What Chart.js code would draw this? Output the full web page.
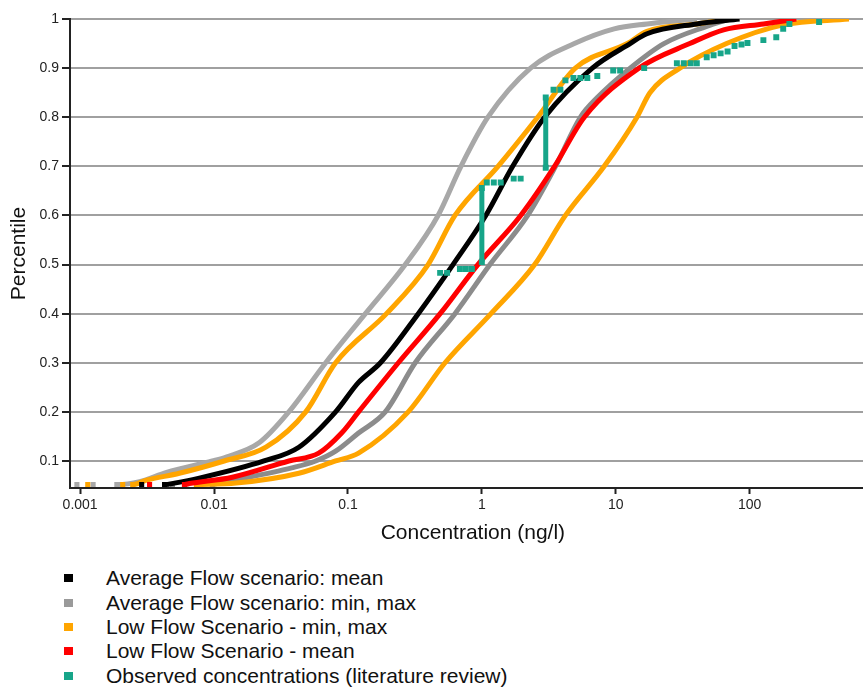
<!DOCTYPE html>
<html>
<head>
<meta charset="utf-8">
<title>Concentration percentiles</title>
<script src="https://cdn.jsdelivr.net/npm/chart.js@4.4.1/dist/chart.umd.min.js"></script>
<style>
  html, body { margin: 0; padding: 0; background: #fff; }
  body { width: 863px; height: 688px; position: relative; overflow: hidden; font-family: "Liberation Sans", Arial, sans-serif; }
  #chart { position: absolute; left: 0; top: 0; }
  #legend { position: absolute; left: 64px; top: 566px; margin: 0; padding: 0; list-style: none; }
  #legend li { height: 24.4px; font-size: 21px; color: #111; display: flex; align-items: center; white-space: nowrap; }
  #legend .box { width: 9px; height: 8px; margin-right: 33px; flex: none; }
</style>
</head>
<body>
<canvas id="chart" width="880" height="550"></canvas>
<ul id="legend"></ul>
<script>
"use strict";

// axis ticks
const xTickValues = [0.001, 0.01, 0.1, 1, 10, 100];
const xTickLabels = ["0.001", "0.01", "0.1", "1", "10", "100"];
const yTickValues = [0.1, 0.2, 0.3, 0.4, 0.5, 0.6, 0.7, 0.8, 0.9, 1];
const yTickLabels = ["0.1", "0.2", "0.3", "0.4", "0.5", "0.6", "0.7", "0.8", "0.9", "1"];

// Average flow scenario: mean (ng/l vs percentile)
const avgMeanConc = [0.00288, 0.00427, 0.00506, 0.00776, 0.0236, 0.043, 0.0809, 0.12, 0.175, 0.335, 0.609, 1.07, 1.7, 2.94, 6.68, 12.8, 17.1, 40.3, 84];
const avgMeanPct  = [0.052, 0.052, 0.055, 0.065, 0.10, 0.128, 0.20, 0.26, 0.30, 0.40, 0.50, 0.60, 0.70, 0.80, 0.90, 0.95, 0.97, 0.99, 1.0];

// Average flow scenario: min
const avgMinConc = [0.000946, 0.00125, 0.00188, 0.00278, 0.00442, 0.0097, 0.0123, 0.0217, 0.0362, 0.0682, 0.135, 0.268, 0.471, 0.698, 1.11, 2.31, 4.91, 9.73, 17.1, 40.3];
const avgMinPct  = [0.052, 0.052, 0.052, 0.058, 0.077, 0.10, 0.108, 0.137, 0.20, 0.30, 0.40, 0.50, 0.60, 0.70, 0.80, 0.90, 0.95, 0.98, 0.99, 1.0];

// Average flow scenario: max
const avgMaxConc = [0.00442, 0.00489, 0.0097, 0.0109, 0.0381, 0.0574, 0.0809, 0.12, 0.19, 0.318, 0.63, 1.15, 2.2, 3.55, 5.44, 7.28, 12.8, 22.9, 47.8, 70.8];
const avgMaxPct  = [0.052, 0.052, 0.052, 0.055, 0.086, 0.10, 0.12, 0.157, 0.20, 0.30, 0.40, 0.50, 0.60, 0.70, 0.80, 0.84, 0.90, 0.95, 0.985, 1.0];

// Low flow scenario: min
const lowMinConc = [0.00114, 0.00208, 0.00247, 0.00313, 0.00551, 0.0119, 0.0244, 0.0484, 0.0809, 0.194, 0.397, 0.63, 1.32, 2.61, 4.99, 12.2, 17.1, 40.3, 70.8];
const lowMinPct  = [0.052, 0.052, 0.052, 0.061, 0.075, 0.10, 0.128, 0.20, 0.30, 0.40, 0.50, 0.60, 0.70, 0.80, 0.90, 0.95, 0.975, 0.99, 1.0];

// Low flow scenario: max
const lowMaxConc = [0.00738, 0.0146, 0.043, 0.0809, 0.12, 0.282, 0.531, 1.17, 2.48, 4.21, 8.2, 14.4, 18.0, 30.1, 67.2, 178, 551];
const lowMaxPct  = [0.052, 0.055, 0.075, 0.10, 0.116, 0.20, 0.30, 0.40, 0.50, 0.60, 0.70, 0.80, 0.85, 0.90, 0.95, 0.988, 1.0];

// Low flow scenario: mean
const lowMeanConc = [0.0033, 0.00601, 0.00654, 0.0137, 0.0362, 0.0605, 0.0897, 0.12, 0.238, 0.488, 0.934, 1.95, 3.49, 5.82, 14.9, 35.7, 63.9, 127, 223];
const lowMeanPct  = [0.052, 0.052, 0.054, 0.067, 0.10, 0.116, 0.157, 0.20, 0.30, 0.40, 0.50, 0.60, 0.70, 0.80, 0.90, 0.95, 0.978, 0.99, 1.0];

// Observed concentrations (literature review)
const obsConc = [0.488, 0.55, 0.686, 0.76, 0.843, 1, 1, 1.089, 1.228, 1.384, 1.729, 1.949, 3, 3, 3.43, 3.86, 4.21, 4.83, 5.44, 6.13, 7.28, 9.57, 10.78, 16.3,
  28.6, 32.2, 36.3, 40.3, 47.8, 53.8, 60.7, 68.4, 77.1, 86.9, 96.3, 126.6, 158, 178, 198, 330];
const obsPct  = [0.483, 0.483, 0.491, 0.491, 0.491, 0.505, 0.656, 0.667, 0.667, 0.667, 0.675, 0.675, 0.697, 0.84, 0.856, 0.856, 0.875, 0.88, 0.88, 0.88, 0.884, 0.895, 0.895, 0.9,
  0.91, 0.91, 0.91, 0.91, 0.922, 0.926, 0.93, 0.934, 0.945, 0.948, 0.951, 0.957, 0.963, 0.98, 0.99, 0.994];

const legendLabels = [
  "Average Flow scenario: mean",
  "Average Flow scenario: min, max",
  "Low Flow Scenario - min, max",
  "Low Flow Scenario - mean",
  "Observed concentrations (literature review)"
];
const legendColors = ["#000000", "#9a9a9a", "#ffa500", "#ff0000", "#17a589"];

const FONT = "'Liberation Sans', Arial, sans-serif";
const FLOOR = 0.053;
const HIDDEN = "rgba(0,0,0,0)";

function toPoints(xs, ys) {
  return xs.map((x, i) => ({ x, y: ys[i] }));
}

function curve(xs, ys, color) {
  return {
    data: toPoints(xs, ys),
    borderColor: color,
    backgroundColor: color,
    borderWidth: 5,
    cubicInterpolationMode: "monotone",
    pointStyle: "rect",
    pointBorderWidth: 0,
    pointRadius: ctx => (ctx.raw && ctx.raw.y < FLOOR ? 3.6 : 0),
    segment: {
      borderColor: ctx => (ctx.p0.parsed.y < FLOOR && ctx.p1.parsed.y < FLOOR ? HIDDEN : color)
    },
    fill: false
  };
}

const observed = {
  data: toPoints(obsConc, obsPct),
  borderColor: legendColors[4],
  backgroundColor: legendColors[4],
  borderWidth: 5,
  tension: 0,
  pointStyle: "rect",
  pointBorderWidth: 0,
  pointRadius: 4.2,
  segment: {
    borderColor: ctx => (ctx.p0.parsed.x === ctx.p1.parsed.x ? legendColors[4] : HIDDEN)
  },
  fill: false
};

// first dataset is painted last (on top)
const datasets = [
  observed,
  curve(lowMeanConc, lowMeanPct, "#ff0000"),
  curve(avgMeanConc, avgMeanPct, "#000000"),
  curve(lowMinConc, lowMinPct, "#ffa500"),
  curve(lowMaxConc, lowMaxPct, "#ffa500"),
  curve(avgMaxConc, avgMaxPct, "#8c8c8c"),
  curve(avgMinConc, avgMinPct, "#a8a8a8")
];

// the plot runs past the right edge of the page, like the cropped original
new Chart(document.getElementById("chart"), {
  type: "line",
  data: { datasets },
  options: {
    responsive: false,
    animation: false,
    devicePixelRatio: 1,
    layout: { padding: { top: 19, right: 0, left: 0, bottom: 0 } },
    plugins: { legend: { display: false }, tooltip: { enabled: false } },
    scales: {
      x: {
        type: "logarithmic",
        min: 0.00084,
        max: 875,
        afterBuildTicks: scale => { scale.ticks = xTickValues.map(value => ({ value })); },
        afterFit: scale => { scale.height = 62; },
        ticks: {
          autoSkip: false,
          maxRotation: 0,
          padding: 3,
          color: "#222",
          font: { family: FONT, size: 14 },
          callback: (value, index) => xTickLabels[index]
        },
        grid: { drawOnChartArea: false, drawTicks: true, tickLength: 6, tickColor: "#222", tickWidth: 2 },
        border: { display: true, color: "#222", width: 2 },
        title: {
          display: true,
          text: "Concentration (ng/l)",
          color: "#111",
          font: { family: FONT, size: 21 },
          padding: { top: 0, bottom: 4 }
        }
      },
      y: {
        type: "linear",
        min: 0.045,
        max: 1,
        afterBuildTicks: scale => { scale.ticks = yTickValues.map(value => ({ value })); },
        afterFit: scale => { scale.width = 70; },
        ticks: {
          padding: 3,
          color: "#222",
          font: { family: FONT, size: 14 },
          callback: (value, index) => yTickLabels[index]
        },
        grid: { color: "#a0a0a0", lineWidth: 2, drawTicks: true, tickLength: 8, tickColor: "#222", tickWidth: 2 },
        border: { display: true, color: "#222", width: 2 },
        title: {
          display: true,
          text: "Percentile",
          color: "#111",
          font: { family: FONT, size: 21 },
          padding: { top: 7, bottom: 0 }
        }
      }
    }
  }
});

const legend = document.getElementById("legend");
legend.innerHTML = legendLabels.map((label, i) =>
  `<li><span class="box" style="background:${legendColors[i]};"></span><span>${label}</span></li>`
).join("");
</script>
</body>
</html>
